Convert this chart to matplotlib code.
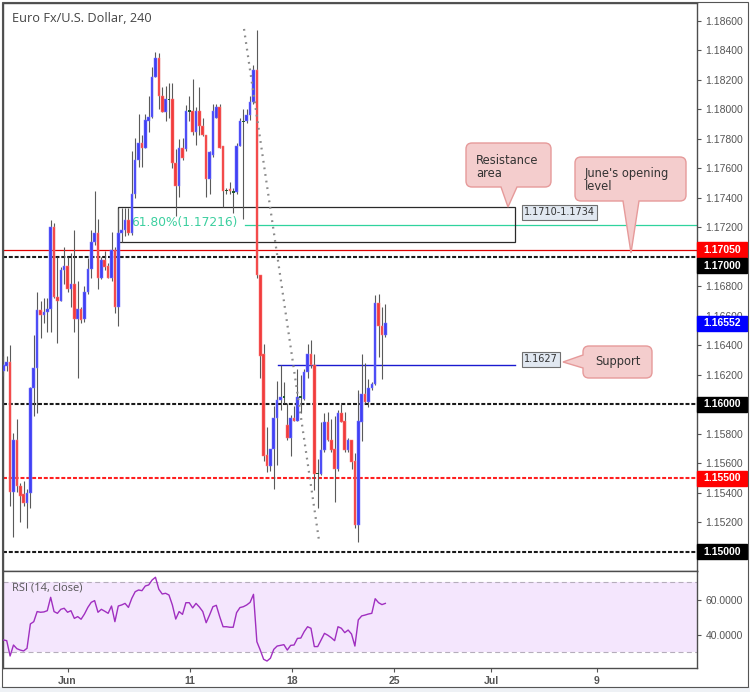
import matplotlib
matplotlib.use("Agg")
import matplotlib.pyplot as plt
import matplotlib.transforms as mtransforms
from matplotlib.patches import Rectangle, PathPatch
from matplotlib.path import Path
import numpy as np

# 4H EUR/USD candles (open, high, low, close)
open_ = [1.1623, 1.1626, 1.1629, 1.1541, 1.1576, 1.1545, 1.1539, 1.1533, 1.1540, 1.1611,
         1.1625, 1.1664, 1.1661, 1.1663, 1.1665, 1.1720, 1.1673, 1.1670, 1.1691, 1.1694,
         1.1678, 1.1682, 1.1658, 1.1665, 1.1658, 1.1676, 1.1692, 1.1710, 1.1716, 1.1686,
         1.1698, 1.1694, 1.1686, 1.1705, 1.1666, 1.1716, 1.1718, 1.1725, 1.1716, 1.1743,
         1.1766, 1.1777, 1.1774, 1.1792, 1.1795, 1.1822, 1.1835, 1.1809, 1.1798, 1.1807,
         1.1807, 1.1764, 1.1748, 1.1774, 1.1773, 1.1799, 1.1799, 1.1785, 1.1799, 1.1789,
         1.1783, 1.1753, 1.1769, 1.1794, 1.1802, 1.1775, 1.1745, 1.1746, 1.1744, 1.1744,
         1.1775, 1.1792, 1.1792, 1.1796, 1.1805, 1.1827, 1.1688, 1.1634, 1.1566, 1.1558,
         1.1570, 1.1591, 1.1603, 1.1605, 1.1586, 1.1577, 1.1591, 1.1589, 1.1605, 1.1604,
         1.1622, 1.1634, 1.1627, 1.1553, 1.1553, 1.1569, 1.1588, 1.1576, 1.1570, 1.1556,
         1.1594, 1.1589, 1.1569, 1.1576, 1.1562, 1.1518, 1.1588, 1.1607, 1.1602, 1.1611,
         1.1614, 1.1669, 1.1653, 1.1647]
high = [1.1633, 1.1633, 1.1640, 1.1581, 1.1590, 1.1547, 1.1548, 1.1543, 1.1612, 1.1647,
        1.1676, 1.1670, 1.1672, 1.1672, 1.1725, 1.1723, 1.1700, 1.1693, 1.1707, 1.1700,
        1.1703, 1.1718, 1.1684, 1.1666, 1.1680, 1.1699, 1.1718, 1.1745, 1.1726, 1.1700,
        1.1704, 1.1696, 1.1717, 1.1707, 1.1733, 1.1733, 1.1733, 1.1733, 1.1772, 1.1781,
        1.1797, 1.1783, 1.1797, 1.1809, 1.1829, 1.1839, 1.1838, 1.1815, 1.1816, 1.1818,
        1.1818, 1.1773, 1.1780, 1.1781, 1.1803, 1.1809, 1.1821, 1.1802, 1.1815, 1.1794,
        1.1783, 1.1772, 1.1804, 1.1804, 1.1804, 1.1775, 1.1747, 1.1751, 1.1747, 1.1777,
        1.1794, 1.1800, 1.1800, 1.1809, 1.1830, 1.1854, 1.1688, 1.1641, 1.1585, 1.1570,
        1.1599, 1.1616, 1.1627, 1.1615, 1.1601, 1.1593, 1.1599, 1.1624, 1.1620, 1.1624,
        1.1641, 1.1644, 1.1634, 1.1563, 1.1588, 1.1594, 1.1595, 1.1590, 1.1592, 1.1596,
        1.1601, 1.1595, 1.1577, 1.1576, 1.1567, 1.1610, 1.1634, 1.1628, 1.1617, 1.1615,
        1.1674, 1.1675, 1.1666, 1.1668]
low = [1.1619, 1.1623, 1.1531, 1.1510, 1.1541, 1.1520, 1.1531, 1.1516, 1.1530, 1.1592,
       1.1594, 1.1645, 1.1655, 1.1649, 1.1649, 1.1672, 1.1642, 1.1670, 1.1682, 1.1676,
       1.1666, 1.1649, 1.1618, 1.1655, 1.1656, 1.1675, 1.1686, 1.1708, 1.1678, 1.1685,
       1.1691, 1.1686, 1.1684, 1.1662, 1.1653, 1.1710, 1.1714, 1.1715, 1.1715, 1.1740,
       1.1761, 1.1761, 1.1774, 1.1785, 1.1794, 1.1822, 1.1800, 1.1798, 1.1792, 1.1794,
       1.1760, 1.1728, 1.1741, 1.1766, 1.1772, 1.1792, 1.1783, 1.1776, 1.1783, 1.1782,
       1.1741, 1.1743, 1.1768, 1.1794, 1.1774, 1.1734, 1.1743, 1.1743, 1.1730, 1.1743,
       1.1775, 1.1726, 1.1791, 1.1793, 1.1804, 1.1686, 1.1618, 1.1562, 1.1554, 1.1555,
       1.1543, 1.1559, 1.1596, 1.1601, 1.1576, 1.1565, 1.1589, 1.1589, 1.1594, 1.1603,
       1.1618, 1.1625, 1.1542, 1.1530, 1.1552, 1.1568, 1.1575, 1.1568, 1.1534, 1.1555,
       1.1588, 1.1568, 1.1568, 1.1556, 1.1516, 1.1507, 1.1575, 1.1601, 1.1598, 1.1610,
       1.1613, 1.1632, 1.1617, 1.1646]
close = [1.1627, 1.1629, 1.1541, 1.1576, 1.1545, 1.1538, 1.1533, 1.1540, 1.1611, 1.1625,
         1.1664, 1.1661, 1.1663, 1.1665, 1.1720, 1.1673, 1.1670, 1.1691, 1.1694, 1.1678,
         1.1682, 1.1658, 1.1665, 1.1657, 1.1676, 1.1692, 1.1710, 1.1716, 1.1686, 1.1698,
         1.1693, 1.1686, 1.1705, 1.1666, 1.1716, 1.1718, 1.1725, 1.1716, 1.1743, 1.1766,
         1.1777, 1.1774, 1.1793, 1.1795, 1.1822, 1.1835, 1.1809, 1.1798, 1.1807, 1.1807,
         1.1764, 1.1748, 1.1774, 1.1767, 1.1799, 1.1799, 1.1785, 1.1799, 1.1789, 1.1783,
         1.1753, 1.1771, 1.1799, 1.1802, 1.1774, 1.1745, 1.1745, 1.1745, 1.1744, 1.1775,
         1.1792, 1.1792, 1.1796, 1.1805, 1.1827, 1.1688, 1.1633, 1.1565, 1.1558, 1.1570,
         1.1591, 1.1603, 1.1605, 1.1605, 1.1577, 1.1591, 1.1589, 1.1605, 1.1605, 1.1622,
         1.1634, 1.1627, 1.1553, 1.1553, 1.1569, 1.1588, 1.1576, 1.1569, 1.1556, 1.1594,
         1.1588, 1.1569, 1.1576, 1.1561, 1.1518, 1.1589, 1.1607, 1.1602, 1.1611, 1.1614,
         1.1669, 1.1653, 1.1647, 1.16552]

# RSI(14, close) as drawn in the lower pane
rsi = [36.9, 36.5, 27.7, 34.0, 31.9, 31.1, 30.6, 32.1, 46.1, 47.4,
       53.2, 52.8, 53.0, 53.7, 61.4, 53.2, 52.2, 54.5, 55.1, 52.8,
       53.7, 49.3, 50.3, 48.8, 51.8, 55.6, 58.5, 59.5, 52.8, 54.5,
       53.4, 52.2, 56.4, 47.4, 56.4, 57.0, 57.9, 55.6, 60.8, 64.6,
       65.6, 65.2, 67.9, 68.5, 71.3, 72.9, 66.0, 63.3, 63.7, 62.7,
       57.0, 48.9, 53.2, 51.6, 58.3, 58.3, 55.3, 57.9, 55.8, 53.2,
       46.8, 51.2, 56.0, 56.8, 50.3, 44.5, 44.5, 44.2, 44.2, 52.6,
       55.5, 56.0, 57.0, 58.5, 63.1, 35.9, 31.1, 25.8, 24.8, 26.4,
       31.5, 33.4, 33.8, 34.2, 31.1, 33.8, 34.0, 37.8, 38.0, 41.7,
       44.5, 43.6, 33.1, 33.1, 36.9, 40.7, 39.6, 38.2, 36.5, 44.5,
       43.6, 41.1, 42.6, 40.3, 33.4, 48.4, 50.7, 51.2, 51.8, 52.2,
       60.6, 58.3, 57.2, 57.9]

# date labels (bar index positions)
date_pos = [19, 55.2, 85.4, 115.6, 144.3, 175.6]
date_labels = ["Jun", "11", "18", "25", "Jul", "9"]

# drawn levels / objects
round_levels = [1.17, 1.16, 1.15]
red_dash_level = 1.155
june_open = 1.1705
fib_level = 1.17216
fib_start = 71.5
support = 1.1627
support_span = (81.3, 151.4)
res_low, res_high = 1.1710, 1.1734
res_span = (33.9, 151.3)
trend_a = (71.2, 1.18546)
trend_b = (93.4, 1.15075)

# price scale boxes: value, colour, pixel shift
axis_boxes = [(1.17050, "#ff0000", 0), (1.17000, "#000000", 9),
              (1.16552, "#0000ff", 0), (1.16000, "#000000", 0),
              (1.15500, "#ff0000", 0), (1.15000, "#000000", 0)]

W, H = 750, 692
fig = plt.figure(figsize=(W / 100, H / 100), dpi=100)
fig.patch.set_facecolor("white")
pix = mtransforms.Affine2D().scale(1 / W, -1 / H).translate(0, 1) + fig.transFigure

ax = fig.add_axes([3 / W, 1 - 571 / H, 694 / W, 568 / H])
rax = fig.add_axes([3 / W, 1 - 668 / H, 694 / W, 97 / H], sharex=ax)

ymin, ymax = 1.14871, 1.18722
ax.set_xlim(-0.1, 205.2)
ax.set_ylim(ymin, ymax)
px_per_price = 568 / (ymax - ymin)

o = np.array(open_)
h = np.array(high)
l = np.array(low)
c = np.array(close)
idx = np.arange(len(c))
up = c > o
dn = c < o
flat = c == o
body = np.maximum(np.abs(c - o), 1.0 / px_per_price)

ax.vlines(idx, l, h, color="#5a5a5a", lw=0.8, zorder=3)
ax.bar(idx[up], body[up], bottom=o[up], width=0.76, color="#4040f4",
       edgecolor="#7a7aff", lw=0.35, zorder=4)
ax.bar(idx[dn], body[dn], bottom=c[dn], width=0.76, color="#f03c3c",
       edgecolor="#ff7c7c", lw=0.35, zorder=4)
ax.bar(idx[flat], 1.3 / px_per_price, bottom=o[flat] - 0.65 / px_per_price,
       width=0.78, color="#1f5a30", zorder=4)

# levels
for lv in round_levels:
    ax.axhline(lv, color="#1a1a1a", lw=1.5, dashes=(1.9, 0.9), zorder=2)
ax.axhline(red_dash_level, color="#ff2020", lw=1.5, dashes=(1.9, 0.9), zorder=2)
ax.axhline(june_open, color="#e00000", lw=0.9, zorder=2)
ax.plot([fib_start, 205.2], [fib_level, fib_level], color="#2fd39e", lw=0.9, zorder=2)
ax.text(37.8, fib_level + 0.00015, "61.80%(1.17216)", color="#3ccf9f", fontsize=8.8,
        va="center", ha="left", zorder=2)
ax.add_patch(Rectangle((res_span[0], res_low), res_span[1] - res_span[0], res_high - res_low,
                       fill=False, ec="#2a2a2a", lw=0.9, zorder=2))
ax.plot(support_span, [support, support], color="#1a1ad0", lw=1.0, zorder=2)
ax.plot([trend_a[0], trend_b[0]], [trend_a[1], trend_b[1]], color="#8a8a8a", lw=1.6,
        linestyle=(0, (0.8, 2.2)), zorder=5)

lbl_box = dict(boxstyle="square,pad=0.22", fc="#e1e8f1", ec="#707070", lw=0.8)
ax.text(154.0, 1.17302, "1.1710-1.1734", fontsize=7, color="#333333", va="center",
        ha="left", bbox=lbl_box, zorder=6)
ax.text(154.0, 1.16305, "1.1627", fontsize=7, color="#333333", va="center",
        ha="left", bbox=lbl_box, zorder=6)

# price axis on the right; labels hidden where a level box sits on top
hidden = [round(v, 5) for v, col, s in axis_boxes if col == "#000000"]


def price_fmt(v, pos):
    return "" if round(v, 5) in hidden else "%.5f" % v


ax.yaxis.tick_right()
ax.set_yticks(np.arange(1.150, 1.1861, 0.002))
ax.yaxis.set_major_formatter(plt.FuncFormatter(price_fmt))
ax.tick_params(axis="y", labelsize=7.5, labelcolor="#555555", color="#555555",
               length=3, width=0.8, pad=3)
for t in ax.get_yticklabels():
    t.set_family("Liberation Sans")
ax.tick_params(axis="x", bottom=False, labelbottom=False)
for s in ax.spines.values():
    s.set_color("#4d4d4d")
    s.set_linewidth(1.0)

blend = mtransforms.blended_transform_factory(ax.transAxes, ax.transData)
bw = 50 / 694
bh = 15 / px_per_price
for val, col, shift in axis_boxes:
    yc = val - shift / px_per_price
    ax.add_patch(Rectangle((1.0, yc - bh / 2), bw, bh, transform=blend, color=col,
                           clip_on=False, zorder=10))
    ax.text(1.0 + 6 / 694, yc, "%.5f" % val, transform=blend, color="white",
            fontsize=7.5, fontweight="bold", family="Liberation Sans", va="center",
            ha="left", clip_on=False, zorder=11)

ax.text(9 / 694, 1 - 16 / 568, "Euro Fx/U.S. Dollar, 240", transform=ax.transAxes,
        fontsize=9.2, color="#444444", family="Open Sans", va="center", ha="left")


# callouts in pixel space
def callout(x0, y0, x1, y1, side, a, b, tip, r=6):
    P = Path
    v = [(x0 + r, y0), (x1 - r, y0), (x1, y0), (x1, y0 + r), (x1, y1 - r), (x1, y1), (x1 - r, y1)]
    cd = [P.MOVETO, P.LINETO, P.CURVE3, P.CURVE3, P.LINETO, P.CURVE3, P.CURVE3]
    if side == "bottom":
        v += [(b, y1), tip, (a, y1)]
        cd += [P.LINETO, P.LINETO, P.LINETO]
    v += [(x0 + r, y1), (x0, y1), (x0, y1 - r)]
    cd += [P.LINETO, P.CURVE3, P.CURVE3]
    if side == "left":
        v += [(x0, b), tip, (x0, a)]
        cd += [P.LINETO, P.LINETO, P.LINETO]
    v += [(x0, y0 + r), (x0, y0), (x0 + r, y0), (x0 + r, y0)]
    cd += [P.LINETO, P.CURVE3, P.CURVE3, P.CLOSEPOLY]
    patch = PathPatch(Path(v, cd), transform=pix, fc="#f4cdcd", ec="#e69a9a", lw=1.0,
                      zorder=20)
    fig.patches.append(patch)


callout(466, 143, 551, 187, "bottom", 501, 517, (508, 207))
callout(575, 157, 686, 201, "bottom", 623, 639, (631, 253))
callout(583, 346, 652, 378, "left", 355, 368, (563, 362))
fig.text(476 / W, 1 - 167 / H, "Resistance\narea", fontsize=8.3, color="#333333",
         va="center", ha="left", linespacing=0.95, zorder=21)
fig.text(585 / W, 1 - 180 / H, "June's opening\nlevel", fontsize=8.3, color="#333333",
         va="center", ha="left", linespacing=0.95, zorder=21)
fig.text(618 / W, 1 - 362 / H, "Support", fontsize=8.3, color="#333333",
         va="center", ha="center", zorder=21)

# RSI pane
rax.axhspan(30, 70, color="#f4e6fd", zorder=0, lw=0)
for lv in (30, 70):
    rax.axhline(lv, color="#b5adbb", lw=0.8, dashes=(4.5, 3), zorder=1)
rax.plot(idx, rsi, color="#a02fc0", lw=1.0, zorder=3)
rax.set_ylim(20.8, 76.5)
rax.yaxis.tick_right()
rax.set_yticks([40, 60])
rax.set_yticklabels(["40.0000", "60.0000"])
rax.tick_params(axis="y", labelsize=7.5, labelcolor="#555555", color="#555555",
                length=3, width=0.8, pad=3)
rax.set_xticks(date_pos)
rax.set_xticklabels(date_labels)
rax.tick_params(axis="x", labelsize=7.5, labelcolor="#555555", color="#555555",
                length=3, width=0.8, pad=3)
for t in rax.get_xticklabels() + rax.get_yticklabels():
    t.set_family("Liberation Sans")
for t in rax.get_xticklabels():
    t.set_fontweight("bold")
for s in rax.spines.values():
    s.set_color("#4d4d4d")
    s.set_linewidth(1.0)
rax.text(9 / 694, 1 - 17 / 97, "RSI (14, close)", transform=rax.transAxes, fontsize=8,
         color="#555555", family="Open Sans", va="center", ha="left")

# outer frame and bottom strip
fig.patches.append(Rectangle((0, 687), W, 5, transform=pix, color="#eef1f5", zorder=0))
fig.patches.append(Rectangle((2, 2), 746, 685, transform=pix, fill=False, ec="#555555",
                             lw=0.8, zorder=1))

fig.savefig("out.png", dpi=100)
